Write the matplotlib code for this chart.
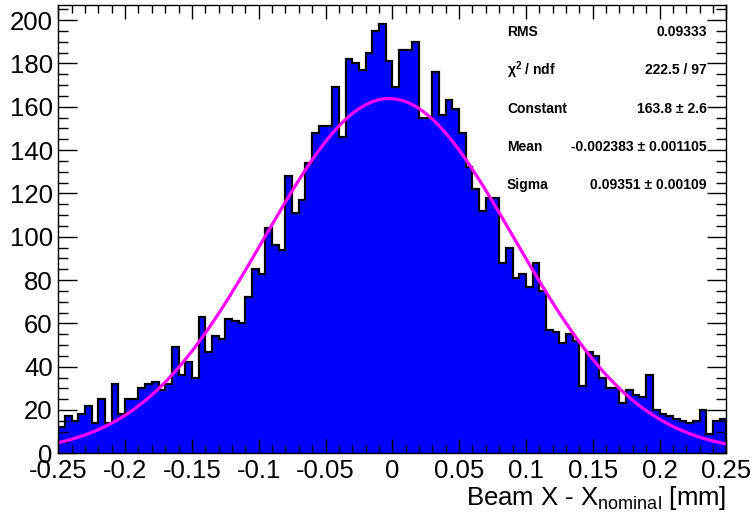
import numpy as np
import matplotlib
matplotlib.use("Agg")
import matplotlib.pyplot as plt
from matplotlib.ticker import MultipleLocator

plt.rcParams['font.family'] = ['Liberation Sans', 'DejaVu Sans']
plt.rcParams['axes.unicode_minus'] = False
plt.rcParams['mathtext.fontset'] = 'custom'
plt.rcParams['mathtext.rm'] = 'Liberation Sans'
plt.rcParams['mathtext.it'] = 'Liberation Sans:italic'
plt.rcParams['mathtext.bf'] = 'Liberation Sans:bold'

# histogram: 100 bins from -0.25 to 0.25 mm
x_lo, x_hi, n_bins = -0.25, 0.25, 100
counts = [12, 17, 15, 18, 22, 14, 25, 14, 32, 18,
          25, 25, 30, 32, 33, 29, 32, 49, 36, 42,
          35, 63, 47, 54, 53, 62, 61, 60, 72, 85,
          83, 104, 96, 94, 128, 111, 117, 134, 148, 151,
          151, 169, 146, 182, 180, 177, 185, 195, 198, 181,
          169, 186, 186, 190, 155, 155, 176, 156, 163, 159,
          148, 132, 122, 112, 118, 118, 88, 95, 81, 83,
          77, 88, 75, 57, 56, 51, 55, 52, 31, 47,
          45, 35, 30, 30, 23, 29, 27, 26, 36, 20,
          18, 17, 16, 15, 14, 15, 20, 9, 15, 16]

# gaussian fit results (from stats box)
fit_const = 163.8
fit_mean = -0.002383
fit_sigma = 0.09351

stat_names = ['RMS', 'χ$^{\\mathbf{2}}$ / ndf', 'Constant', 'Mean', 'Sigma']
stat_values = ['0.09333', '222.5 / 97', '163.8 ± 2.6',
               '-0.002383 ± 0.001105', '0.09351 ± 0.00109']

xticks = [-0.25, -0.2, -0.15, -0.1, -0.05, 0, 0.05, 0.1, 0.15, 0.2, 0.25]
xtick_labels = ['-0.25', '-0.2', '-0.15', '-0.1', '-0.05', '0',
                '0.05', '0.1', '0.15', '0.2', '0.25']
yticks = [0, 20, 40, 60, 80, 100, 120, 140, 160, 180, 200]

W, H = 753, 523
fig = plt.figure(figsize=(W/100, H/100), dpi=100)
ax = fig.add_axes([58.3/W, 1-453.3/H, (726.3-58.3)/W, (453.3-5)/H])

edges = np.linspace(x_lo, x_hi, n_bins+1)
ax.stairs(counts, edges, fill=True, color='#0000ff', baseline=0)
ax.stairs(counts, edges, color='black', lw=1.6, baseline=0)

xf = np.linspace(x_lo, x_hi, 400)
ax.plot(xf, fit_const*np.exp(-0.5*((xf-fit_mean)/fit_sigma)**2),
        color='#ff00ff', lw=2.3)

ax.set_xlim(x_lo, x_hi)
ax.set_ylim(0, 207)
ax.set_xticks(xticks)
ax.set_xticklabels(xtick_labels)
ax.set_yticks(yticks)
ax.xaxis.set_minor_locator(MultipleLocator(0.01))
ax.yaxis.set_minor_locator(MultipleLocator(5))
ax.tick_params(which='both', direction='in', top=True, right=True,
               labelsize=18.5, width=1.0)
ax.tick_params(axis='x', which='major', length=10, pad=4)
ax.tick_params(axis='x', which='minor', length=5.5)
ax.tick_params(axis='y', which='major', length=13.5, pad=4)
ax.tick_params(axis='y', which='minor', length=7)
for s in ax.spines.values():
    s.set_linewidth(1.0)

fig.text(726/W, 1-505/H, r'Beam X - X$_{\mathregular{nominal}}$ [mm]',
         ha='right', va='baseline', fontsize=18.5)

rows_y = [32, 70, 109, 147, 185]
for name, val, yy in zip(stat_names, stat_values, rows_y):
    fig.text(507/W, 1-yy/H, name, ha='left', va='center',
             fontsize=10, fontweight='bold')
    fig.text(707/W, 1-yy/H, val, ha='right', va='center',
             fontsize=10, fontweight='bold')

fig.savefig('out.png', dpi=100)
